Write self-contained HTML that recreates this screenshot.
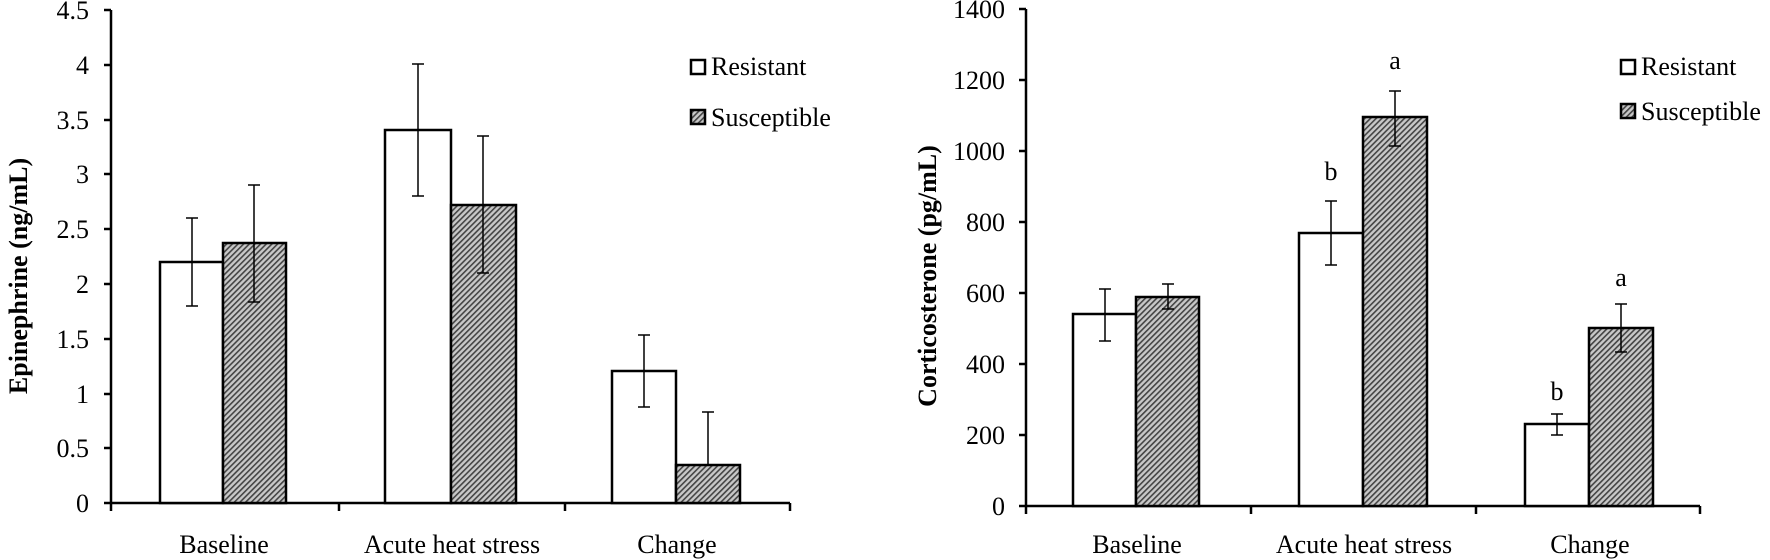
<!DOCTYPE html>
<html><head><style>body{margin:0;background:#fff}svg{display:block}</style></head><body>
<svg width="1770" height="560" xmlns="http://www.w3.org/2000/svg" font-family="Liberation Serif, serif" fill="#000">
<defs><pattern id="h" width="4" height="4" patternUnits="userSpaceOnUse" patternTransform="rotate(45)"><rect width="4" height="4" fill="#c8c8c8"/><rect width="1.6" height="4" fill="#444"/></pattern></defs>
<g stroke="#000" stroke-width="2.5">
<line x1="111" y1="10" x2="111" y2="503"/><line x1="104" y1="503" x2="790" y2="503"/>
<line x1="104" y1="10" x2="111" y2="10"/><line x1="104" y1="65" x2="111" y2="65"/><line x1="104" y1="120" x2="111" y2="120"/><line x1="104" y1="174" x2="111" y2="174"/><line x1="104" y1="229" x2="111" y2="229"/><line x1="104" y1="284" x2="111" y2="284"/><line x1="104" y1="339" x2="111" y2="339"/><line x1="104" y1="394" x2="111" y2="394"/><line x1="104" y1="448" x2="111" y2="448"/>
<line x1="111" y1="503" x2="111" y2="511"/><line x1="339" y1="503" x2="339" y2="511"/><line x1="565" y1="503" x2="565" y2="511"/><line x1="790" y1="503" x2="790" y2="511"/>
<rect x="160" y="262" width="63" height="241" fill="#fff"/><rect x="223" y="243" width="63" height="260" fill="url(#h)"/>
<rect x="385" y="130" width="66" height="373" fill="#fff"/><rect x="451" y="205" width="65" height="298" fill="url(#h)"/>
<rect x="612" y="371" width="64" height="132" fill="#fff"/><rect x="676" y="465" width="64" height="38" fill="url(#h)"/>
</g>
<g stroke="#000" stroke-width="1.5">
<path d="M192 306V218M186 306h12M186 218h12"/><path d="M254 302V185M248 302h12M248 185h12"/>
<path d="M418 196V64M412 196h12M412 64h12"/><path d="M483 273V136M477 273h12M477 136h12"/>
<path d="M644 407V335M638 407h12M638 335h12"/><path d="M708 465V412M702 412h12"/>
</g>
<g font-size="26" text-anchor="end">
<text x="89" y="19">4.5</text><text x="89" y="74">4</text><text x="89" y="129">3.5</text><text x="89" y="183">3</text><text x="89" y="238">2.5</text><text x="89" y="293">2</text><text x="89" y="348">1.5</text><text x="89" y="403">1</text><text x="89" y="457">0.5</text><text x="89" y="512">0</text>
</g>
<g font-size="26" text-anchor="middle"><text x="224" y="553">Baseline</text><text x="452" y="553">Acute heat stress</text><text x="677" y="553">Change</text></g>
<text transform="translate(27,276) rotate(-90)" font-size="26" font-weight="bold" text-anchor="middle">Epinephrine (ng/mL)</text>
<rect x="691" y="60" width="14" height="14" fill="#fff" stroke="#000" stroke-width="2.5"/><text x="711" y="75" font-size="26">Resistant</text>
<rect x="691" y="110" width="14" height="14" fill="url(#h)" stroke="#000" stroke-width="2.5"/><text x="711" y="126" font-size="26">Susceptible</text>

<g stroke="#000" stroke-width="2.5">
<line x1="1026" y1="9" x2="1026" y2="506"/><line x1="1019" y1="506" x2="1700" y2="506"/>
<line x1="1019" y1="9" x2="1026" y2="9"/><line x1="1019" y1="80" x2="1026" y2="80"/><line x1="1019" y1="151" x2="1026" y2="151"/><line x1="1019" y1="222" x2="1026" y2="222"/><line x1="1019" y1="293" x2="1026" y2="293"/><line x1="1019" y1="364" x2="1026" y2="364"/><line x1="1019" y1="435" x2="1026" y2="435"/>
<line x1="1026" y1="506" x2="1026" y2="514"/><line x1="1251" y1="506" x2="1251" y2="514"/><line x1="1476" y1="506" x2="1476" y2="514"/><line x1="1700" y1="506" x2="1700" y2="514"/>
<rect x="1073" y="314" width="63" height="192" fill="#fff"/><rect x="1136" y="297" width="63" height="209" fill="url(#h)"/>
<rect x="1299" y="233" width="64" height="273" fill="#fff"/><rect x="1363" y="117" width="64" height="389" fill="url(#h)"/>
<rect x="1525" y="424" width="64" height="82" fill="#fff"/><rect x="1589" y="328" width="64" height="178" fill="url(#h)"/>
</g>
<g stroke="#000" stroke-width="1.5">
<path d="M1105 341V289M1099 341h12M1099 289h12"/><path d="M1168 309V284M1162 309h12M1162 284h12"/>
<path d="M1331 265V201M1325 265h12M1325 201h12"/><path d="M1395 146V91M1389 146h12M1389 91h12"/>
<path d="M1557 435V414M1551 435h12M1551 414h12"/><path d="M1621 352V304M1615 352h12M1615 304h12"/>
</g>
<g font-size="26" text-anchor="end">
<text x="1005" y="18">1400</text><text x="1005" y="89">1200</text><text x="1005" y="160">1000</text><text x="1005" y="231">800</text><text x="1005" y="302">600</text><text x="1005" y="373">400</text><text x="1005" y="444">200</text><text x="1005" y="515">0</text>
</g>
<g font-size="26" text-anchor="middle"><text x="1137" y="553">Baseline</text><text x="1364" y="553">Acute heat stress</text><text x="1590" y="553">Change</text>
<text x="1331" y="180">b</text><text x="1395" y="69">a</text><text x="1557" y="400">b</text><text x="1621" y="286">a</text></g>
<text transform="translate(936,276) rotate(-90)" font-size="26" font-weight="bold" text-anchor="middle">Corticosterone (pg/mL)</text>
<rect x="1621" y="60" width="14" height="14" fill="#fff" stroke="#000" stroke-width="2.5"/><text x="1641" y="75" font-size="26">Resistant</text>
<rect x="1621" y="104" width="14" height="14" fill="url(#h)" stroke="#000" stroke-width="2.5"/><text x="1641" y="120" font-size="26">Susceptible</text>
</svg>
</body></html>
